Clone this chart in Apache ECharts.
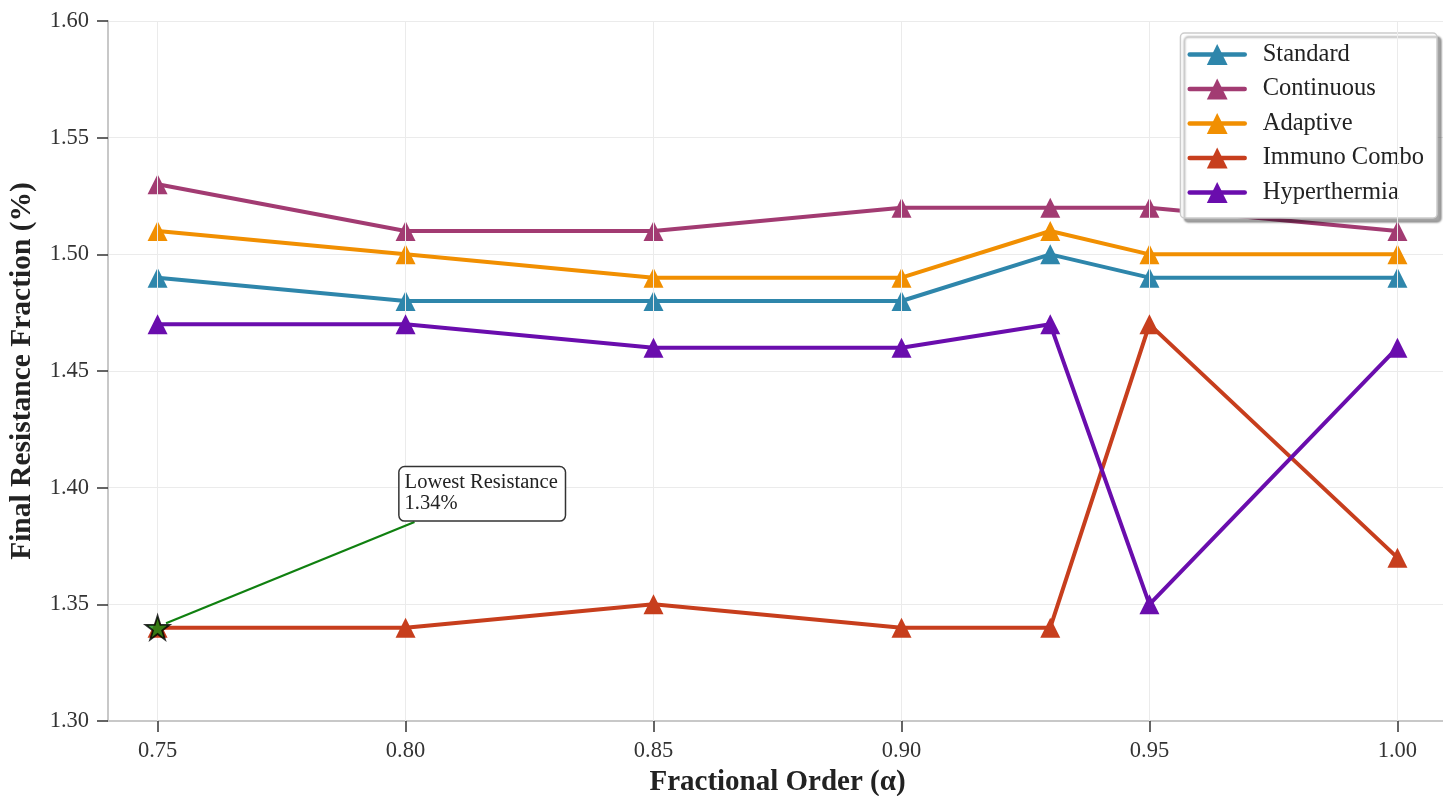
<!DOCTYPE html>
<html>
<head>
<meta charset="utf-8">
<script src="https://cdn.jsdelivr.net/npm/echarts@6/dist/echarts.min.js"></script>
<style>html,body{margin:0;padding:0;background:#fff;}#c{width:1443px;height:796px;}</style>
</head>
<body>
<div id="c"></div>
<script>
const alphas = [0.75, 0.80, 0.85, 0.90, 0.93, 0.95, 1.00];
const xTicks = [0.75, 0.80, 0.85, 0.90, 0.95, 1.00];
const standard = [1.49, 1.48, 1.48, 1.48, 1.50, 1.49, 1.49];
const continuous = [1.53, 1.51, 1.51, 1.52, 1.52, 1.52, 1.51];
const adaptive = [1.51, 1.50, 1.49, 1.49, 1.51, 1.50, 1.50];
const immuno = [1.34, 1.34, 1.35, 1.34, 1.34, 1.47, 1.37];
const hyper = [1.47, 1.47, 1.46, 1.46, 1.47, 1.35, 1.46];
const seriesNames = ['Standard', 'Continuous', 'Adaptive', 'Immuno Combo', 'Hyperthermia'];
const seriesColors = ['#2E86AB', '#A23B72', '#F18F01', '#C73E1D', '#6A0DAD'];
const seriesValues = [standard, continuous, adaptive, immuno, hyper];
const lowest = [0.75, 1.34];
const annotText = 'Lowest Resistance\n1.34%';
const annotBoxAt = [0.7988, 1.4087];
const arrowFrom = [0.8018, 1.3853];
const arrowTo = [0.7517, 1.3419];

const FONT = '"Liberation Serif", "DejaVu Serif", serif';
const chart = echarts.init(document.getElementById('c'), null, {renderer: 'canvas'});

const lineSeries = seriesNames.map((n, i) => ({
  name: n,
  type: 'line',
  data: alphas.map((a, j) => [a, seriesValues[i][j]]),
  symbol: 'triangle',
  symbolSize: 20,
  showAllSymbol: true,
  lineStyle: {width: 4, color: seriesColors[i]},
  itemStyle: {color: seriesColors[i]},
  z: 2 + i,
  animation: false
}));

const starPath = 'path://M50,0 L61.2,34.5 L97.6,34.5 L68.2,55.9 L79.4,90.5 L50,69.1 L20.6,90.5 L31.8,55.9 L2.4,34.5 L38.8,34.5 Z';

const option = {
  backgroundColor: '#fff',
  animation: false,
  textStyle: {fontFamily: FONT},
  grid: {left: 108, top: 21, width: 1339, height: 700, containLabel: false, outerBoundsMode: 'none'},
  xAxis: {
    type: 'value',
    min: 0.74, max: 1.01,
    name: 'Fractional Order (α)',
    nameLocation: 'middle',
    nameGap: 43,
    nameTextStyle: {fontFamily: FONT, fontSize: 29, fontWeight: 'bold', color: '#222'},
    axisLine: {show: true, lineStyle: {color: '#c8c8c8', width: 2}},
    axisTick: {show: true, customValues: xTicks, length: 11, lineStyle: {color: '#333', width: 1.5}},
    axisLabel: {customValues: xTicks, fontFamily: FONT, fontSize: 22.5, color: '#333', margin: 19,
      formatter: v => v.toFixed(2)},
    splitLine: {show: false}
  },
  yAxis: {
    type: 'value',
    min: 1.30, max: 1.60, interval: 0.05,
    name: 'Final Resistance Fraction (%)',
    nameLocation: 'middle',
    nameGap: 71,
    nameTextStyle: {fontFamily: FONT, fontSize: 29.5, fontWeight: 'bold', color: '#222'},
    axisLine: {show: true, lineStyle: {color: '#c8c8c8', width: 2}},
    axisTick: {show: true, length: 11, lineStyle: {color: '#333', width: 1.5}},
    axisLabel: {fontFamily: FONT, fontSize: 22.5, color: '#333', margin: 19,
      formatter: v => v.toFixed(2)},
    splitLine: {show: true, lineStyle: {color: '#ebebeb', width: 1}}
  },
  legend: {
    orient: 'vertical',
    right: 6, top: 33,
    data: seriesNames,
    itemWidth: 55, itemHeight: 26,
    itemGap: 9.5,
    padding: [9, 13, 13, 7],
    backgroundColor: '#fff',
    borderColor: '#cccccc',
    borderWidth: 1.5,
    borderRadius: 4,
    shadowColor: 'rgba(0,0,0,0.35)',
    shadowBlur: 2,
    shadowOffsetX: 4,
    shadowOffsetY: 4,
    lineStyle: {width: 4.5, cap: 'round'},
    textStyle: {fontFamily: FONT, fontSize: 24.5, lineHeight: 24, color: '#222', padding: [0, 0, 0, 13]}
  },
  series: [
    {
      name: '_vgrid',
      type: 'line',
      data: [],
      silent: true,
      markLine: {
        silent: true, symbol: 'none', label: {show: false},
        lineStyle: {color: '#ebebeb', width: 1, type: 'solid'},
        data: xTicks.map(v => ({xAxis: v}))
      },
      z: 0
    },
    ...lineSeries,
    {
      name: '_star',
      type: 'scatter',
      data: [lowest],
      symbol: starPath,
      symbolSize: 24,
      itemStyle: {color: '#138a13', borderColor: '#000', borderWidth: 1.8},
      z: 10
    },
    {
      name: '_arrow',
      type: 'line',
      data: [],
      z: 12,
      markLine: {
        silent: true,
        symbol: ['none', 'arrow'],
        symbolSize: [0, 10],
        label: {show: false},
        lineStyle: {color: '#108010', width: 2.2, type: 'solid'},
        data: [[{coord: arrowFrom}, {coord: arrowTo}]]
      }
    }
  ]
};
chart.setOption(option);

const p = chart.convertToPixel({gridIndex: 0}, annotBoxAt);
chart.setOption({
  graphic: [{
    type: 'text',
    x: p[0], y: p[1],
    z: 20,
    style: {
      text: annotText,
      font: '20.5px ' + FONT,
      fill: '#222',
      lineHeight: 21,
      backgroundColor: '#fff',
      borderColor: '#333',
      borderWidth: 1.5,
      borderRadius: 5,
      padding: [5, 7, 6, 5]
    }
  }]
});
</script>
</body>
</html>
